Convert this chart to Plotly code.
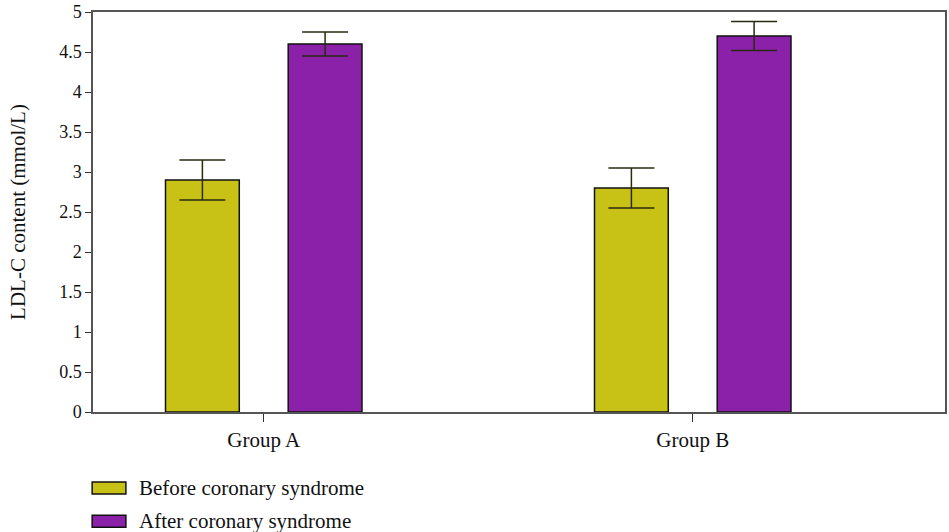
import plotly.graph_objects as go

groups = ["Group A", "Group B"]
before_vals = [2.9, 2.8]
before_err = [0.25, 0.25]
after_vals = [4.6, 4.7]
after_err = [0.15, 0.18]
series_names = ["Before coronary syndrome", "After coronary syndrome"]
y_ticks = [0, 0.5, 1, 1.5, 2, 2.5, 3, 3.5, 4, 4.5, 5]

FONT = "Liberation Serif"
YELLOW = "#C8C217"
PURPLE = "#8B21A8"
xpos = list(range(len(groups)))

fig = go.Figure()
for vals, errs, color, off in [(before_vals, before_err, YELLOW, -0.229),
                               (after_vals, after_err, PURPLE, 0.057)]:
    fig.add_trace(go.Bar(
        x=xpos, y=vals, width=0.172, offset=off,
        marker=dict(color=color, line=dict(color="#111111", width=1.5)),
        error_y=dict(type="data", array=errs, visible=True, color="#2a2a10",
                     thickness=1.5, width=23),
        showlegend=False))

# manual legend
for i, (name, color) in enumerate(zip(series_names, [YELLOW, PURPLE])):
    yc = -0.19 - i * 0.083
    fig.add_shape(type="rect", xref="paper", yref="paper",
                  x0=-0.001, x1=0.0386, y0=yc - 0.015, y1=yc + 0.015,
                  fillcolor=color, line=dict(color="#111111", width=1.5))
    fig.add_annotation(xref="paper", yref="paper", x=0.052, y=yc, text=name,
                       showarrow=False, xanchor="left", yanchor="middle",
                       font=dict(family=FONT, size=21, color="#111111"))

fig.update_layout(
    width=949, height=532,
    margin=dict(l=93, r=2, t=11, b=120),
    paper_bgcolor="white", plot_bgcolor="white",
    font=dict(family=FONT, size=17, color="#111111"),
    xaxis=dict(range=[-0.398, 1.588], tickvals=xpos, ticktext=groups,
               ticks="outside", ticklen=8, tickcolor="#333333",
               showline=True, linecolor="#555555", linewidth=1.5, mirror=True,
               showgrid=False, zeroline=False, tickfont=dict(size=21)),
    yaxis=dict(range=[0, 5], tickvals=y_ticks, ticks="outside", ticklen=6,
               tickcolor="#333333", showline=True, linecolor="#555555",
               linewidth=1.5, mirror=True, showgrid=False, zeroline=False,
               title=dict(text="LDL-C content (mmol/L)", font=dict(size=21),
                          standoff=28),
               tickfont=dict(size=18)),
)

fig.write_html("out.html", post_script="document.body.style.margin='0';",
               config={"displayModeBar": False})
